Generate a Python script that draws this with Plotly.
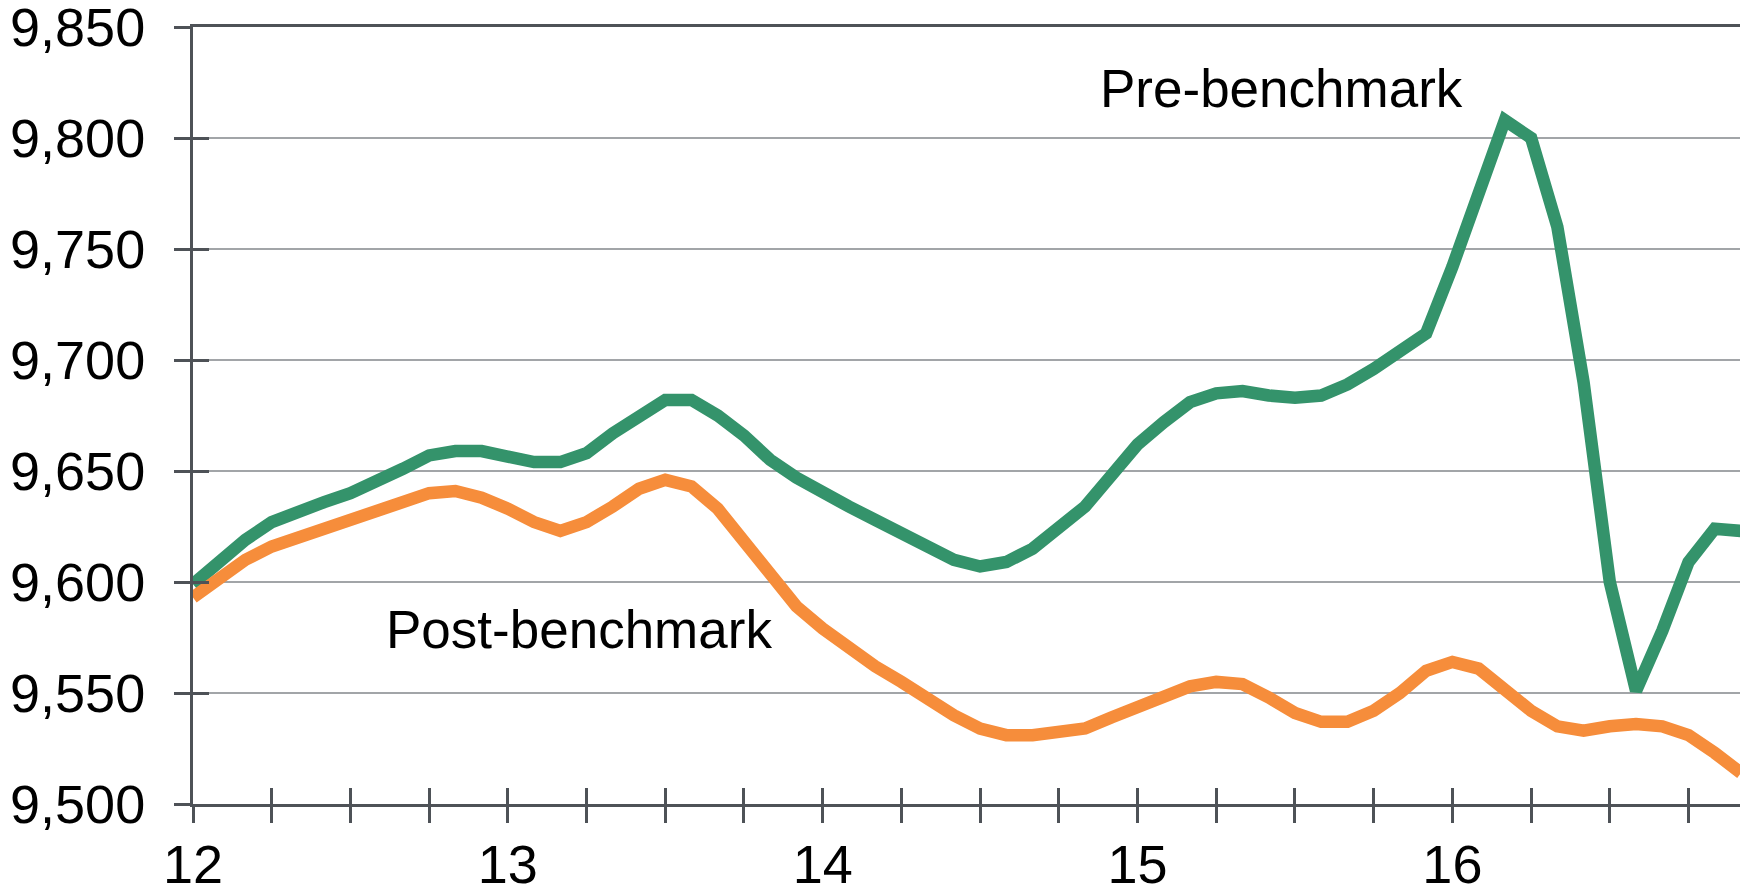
import plotly.graph_objects as go

# Monthly index: 12 = Jan 2012 ... last point Dec 2016
n_months = 60
x_vals = [12 + m / 12 for m in range(n_months)]

pre_benchmark = [
    9599, 9609, 9619, 9627, 9632, 9636, 9640, 9645, 9651, 9657,
    9659, 9659, 9657, 9654, 9654, 9658, 9667, 9675, 9682, 9682,
    9675, 9666, 9655, 9647, 9640, 9634, 9628, 9622, 9615, 9610,
    9607, 9609, 9615, 9624, 9634, 9648, 9662, 9672, 9681, 9685,
    9686, 9684, 9683, 9684, 9689, 9696, 9704, 9712, 9742, 9774,
    9808, 9800, 9760, 9690, 9600, 9551, 9578, 9609, 9624, 9623,
]

post_benchmark = [
    9593, 9601, 9610, 9616, 9620, 9624, 9627, 9631, 9636, 9640,
    9641, 9638, 9633, 9627, 9623, 9627, 9634, 9642, 9646, 9643,
    9633, 9618, 9603, 9589, 9579, 9570, 9562, 9555, 9547, 9540,
    9534, 9531, 9531, 9532, 9534, 9539, 9544, 9549, 9553, 9555,
    9554, 9548, 9541, 9537, 9537, 9542, 9550, 9560, 9564, 9561,
    9552, 9542, 9535, 9533, 9535, 9536, 9535, 9531, 9523, 9514,
]

x_tickvals = [12 + q / 4 for q in range(20)]
x_ticktext = [str(12 + q // 4) if q % 4 == 0 else "" for q in range(20)]
y_tickvals = [9500, 9550, 9600, 9650, 9700, 9750, 9800, 9850]
y_ticktext = ["9,500", "9,550", "9,600", "9,650", "9,700", "9,750", "9,800", "9,850"]

GREEN = "#34936B"
ORANGE = "#F68D3B"
AXIS = "#4E5257"
GRID = "#A2A5A8"
FONT = "Liberation Sans, Arial, sans-serif"
FS = 54
FS_LABEL = 53
X_RANGE = [12, 12 + 59 / 12]
Y_RANGE = [9500, 9850]

fig = go.Figure()
fig.add_trace(go.Scatter(x=x_vals, y=pre_benchmark, mode="lines",
                         line=dict(color=GREEN, width=12.5), name="Pre-benchmark"))
fig.add_trace(go.Scatter(x=x_vals, y=post_benchmark, mode="lines",
                         line=dict(color=ORANGE, width=12.5), name="Post-benchmark"))
# empty trace for the overlay axes (inner half of crossing ticks)
fig.add_trace(go.Scatter(x=[], y=[], xaxis="x2", yaxis="y2", showlegend=False))

# page body adds an 8px offset, so the figure is 8px smaller each way
fig.update_layout(
    width=1740, height=883,
    margin=dict(l=185, r=7, t=19, b=87, autoexpand=False),
    paper_bgcolor="white", plot_bgcolor="white",
    showlegend=False,
    font=dict(family=FONT, size=FS, color="black"),
    xaxis=dict(range=X_RANGE, tickmode="array", tickvals=x_tickvals, ticktext=x_ticktext,
               ticks="outside", ticklen=16, tickwidth=2.5, tickcolor=AXIS,
               showline=True, linecolor=AXIS, linewidth=3, mirror=True,
               showgrid=False, zeroline=False, ticklabelstandoff=-5,
               ticklabeloverflow="allow", automargin=False,
               tickfont=dict(size=FS, color="black", family=FONT)),
    yaxis=dict(range=Y_RANGE, tickmode="array", tickvals=y_tickvals, ticktext=y_ticktext,
               ticks="outside", ticklen=16, tickwidth=2.5, tickcolor=AXIS,
               showline=True, linecolor=AXIS, linewidth=3, mirror=True,
               showgrid=True, gridcolor=GRID, gridwidth=2.2, zeroline=False,
               ticklabelstandoff=18, ticklabeloverflow="allow", automargin=False,
               tickfont=dict(size=FS, color="black", family=FONT)),
    xaxis2=dict(overlaying="x", anchor="y2", side="bottom", range=X_RANGE,
                tickmode="array", tickvals=x_tickvals, ticks="inside", ticklen=16,
                tickwidth=2.5, tickcolor=AXIS, showticklabels=False, automargin=False,
                showline=False, showgrid=False, zeroline=False),
    yaxis2=dict(overlaying="y", anchor="x2", side="left", range=Y_RANGE,
                tickmode="array", tickvals=y_tickvals, ticks="inside", ticklen=16,
                tickwidth=2.5, tickcolor=AXIS, showticklabels=False, automargin=False,
                showline=False, showgrid=False, zeroline=False),
    annotations=[
        dict(x=14.875, y=9822.5, xref="x", yref="y", text="Pre-benchmark",
             showarrow=False, xanchor="left", yanchor="middle",
             font=dict(size=FS_LABEL, color="black", family=FONT)),
        dict(x=12.606, y=9578.5, xref="x", yref="y", text="Post-benchmark",
             showarrow=False, xanchor="left", yanchor="middle",
             font=dict(size=FS_LABEL, color="black", family=FONT)),
    ],
)

fig.write_html("out.html")
